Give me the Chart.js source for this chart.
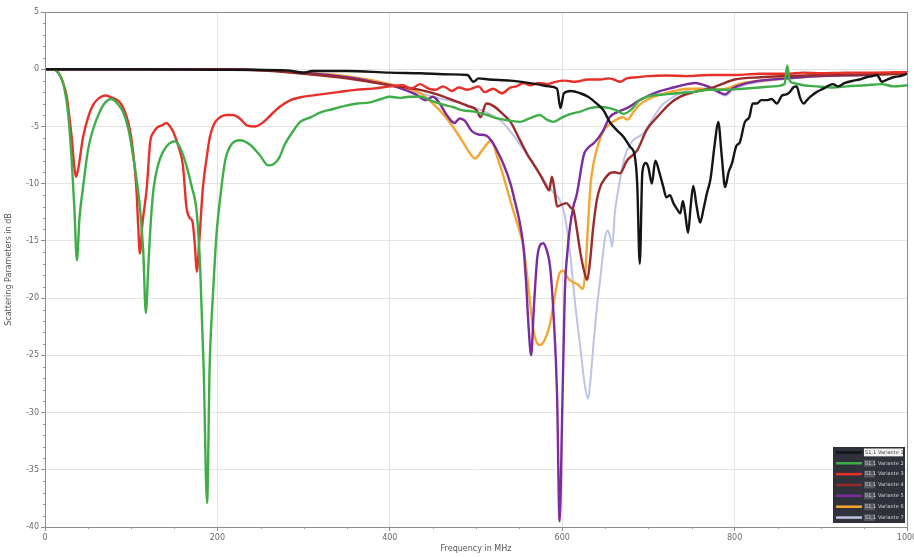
<!DOCTYPE html>
<html>
<head>
<meta charset="utf-8">
<script src="https://cdn.jsdelivr.net/npm/chart.js@4/dist/chart.umd.min.js"></script>
<style>
  html, body { margin: 0; padding: 0; background: #ffffff; }
  #wrap { width: 914px; height: 557px; position: relative; }
</style>
</head>
<body>
<div id="wrap"><canvas id="c" width="914" height="557"></canvas></div>
<script>
// Frequency axis ticks (MHz) and level ticks (dB)
const xTicks = [0, 200, 400, 600, 800, 1000];
const yTicks = [5, 0, -5, -10, -15, -20, -25, -30, -35, -40];

// Series names shown in the legend box (two columns)
const seriesNames = ['S1,1', 'S1,1', 'S1,1', 'S1,1', 'S1,1', 'S1,1', 'S1,1'];
const seriesTags  = ['Variante 1', 'Variante 2', 'Variante 3', 'Variante 4', 'Variante 5', 'Variante 6', 'Variante 7'];
const seriesColors = ['#151515', '#3fae49', '#e8302a', '#9a2b2b', '#7b2d9e', '#f5a530', '#bdc3e4'];

// Black trace
const fBlack = [0,100,200,280,300,310,350,400,435,470,
  490,497,503,515,540,570,585,594,598,602,
  610,621,630,640,648,655,663,671,679,684,
  687,690,693,697,700,704,708,713,717,721,
  725,729,733,737,740,743,746,749,752,756,
  760,764,768,772,777,781,785,789,793,797,
  802,806,812,817,821,826,831,837,843,849,
  855,860,864,868,872,876,880,884,888,895,
  903,910,914,920,928,938,945,953,960,965,
  971,977,984,992,1000];
const dbBlack = [0,0,-0.05,-0.1,-0.3,-0.15,-0.15,-0.3,-0.35,-0.45,
  -0.5,-1.1,-0.8,-0.9,-1.0,-1.3,-1.5,-1.7,-3.4,-2.1,
  -1.9,-2.1,-2.4,-3.0,-3.6,-4.6,-5.3,-5.9,-6.8,-7.5,
  -10,-17,-9,-8.2,-8.6,-10,-8,-9.1,-10.2,-11.2,
  -11.0,-11.7,-12.2,-12.6,-11.5,-12.8,-14.3,-12,-10.2,-12,
  -13.4,-12.2,-10.8,-9.6,-6.5,-4.6,-7.5,-10.3,-9,-8.2,
  -6.7,-6.4,-4.6,-4.2,-3.0,-3.0,-2.7,-2.7,-2.6,-3.0,
  -2.3,-2.2,-2.0,-1.6,-1.5,-2.5,-3.0,-2.7,-2.4,-2.0,
  -1.7,-1.4,-1.3,-1.5,-1.2,-1.0,-0.9,-0.7,-0.6,-0.5,
  -1.1,-0.9,-0.7,-0.6,-0.4];

// Green trace
const fGreen = [0,10,17,22,27,31,34,37,40,44,
  50,56,63,70,77,84,91,97,102,106,
  110,114,117,120,123,126,131,137,144,151,
  157,164,170,176,180,184,188,191,195,199,
  203,209,217,226,238,249,259,265,272,278,
  287,296,308,319,333,348,362,377,390,400,
  412,423,435,450,462,473,485,498,513,525,
  540,551,562,574,582,590,600,610,621,632,
  644,655,663,671,679,690,705,720,733,750,
  771,790,810,829,845,858,861,864,868,880,
  895,914,930,953,970,985,1000];
const dbGreen = [0,0,-0.5,-1.5,-4,-8,-12,-16.7,-13,-10.4,
  -7,-5.2,-3.8,-2.9,-2.6,-3.0,-3.8,-5.3,-7.5,-9.5,
  -12,-16,-21.3,-17,-13,-10.4,-8.4,-7.2,-6.5,-6.3,
  -6.9,-8.4,-10.2,-12.5,-17.3,-26,-37.9,-26,-19.5,-14.4,
  -11.4,-8,-6.5,-6.2,-6.6,-7.5,-8.4,-8.3,-7.7,-6.6,
  -5.5,-4.6,-4.2,-3.8,-3.5,-3.2,-3.0,-2.9,-2.6,-2.4,
  -2.5,-2.4,-2.4,-2.8,-3.1,-3.3,-3.6,-3.7,-4.0,-4.3,
  -4.5,-4.6,-4.3,-4.0,-4.4,-4.6,-4.2,-3.9,-3.7,-3.4,
  -3.3,-3.4,-3.6,-3.9,-3.6,-2.7,-2.3,-2.2,-2.1,-2.0,
  -1.8,-1.8,-1.7,-1.6,-1.5,-1.3,0.3,-1.0,-1.2,-1.4,
  -1.5,-1.6,-1.5,-1.4,-1.3,-1.5,-1.4];

// Red trace
const fRed = [0,10,14,17,21,25,28,31,34,36,
  39,44,50,56,63,70,78,87,94,99,
  103,106,108,110,113,118,122,126,130,136,
  141,145,149,155,160,164,168,171,174,176,
  179,183,188,191,196,203,210,218,226,234,
  244,252,262,272,285,300,320,340,360,380,
  400,415,425,435,445,453,462,472,480,490,
  503,510,520,530,540,547,555,563,573,583,
  592,603,615,630,645,653,660,667,675,687,
  700,720,745,770,800,830,860,880,900,930,
  960,1000];
const dbRed = [0,0,-0.2,-0.5,-1.2,-2.3,-4,-6,-8.5,-9.4,
  -8.5,-6,-4.2,-3.1,-2.5,-2.3,-2.5,-2.9,-4,-5.5,
  -7.8,-10.4,-13.5,-16.1,-13.5,-10.4,-6.4,-5.5,-5.1,-4.9,
  -4.7,-5.0,-5.5,-6.8,-8.4,-12,-13,-13.3,-15.5,-17.7,
  -15,-10.5,-7.5,-6,-4.8,-4.2,-4.0,-4.0,-4.3,-4.9,
  -5.0,-4.7,-4.0,-3.3,-2.7,-2.4,-2.2,-2.0,-1.8,-1.7,
  -1.5,-1.4,-1.7,-1.3,-1.7,-1.8,-1.5,-1.9,-1.6,-1.8,
  -1.5,-2.0,-1.7,-2.1,-1.6,-1.5,-1.2,-1.4,-1.2,-1.3,
  -1.1,-1.0,-1.1,-0.9,-0.9,-0.8,-0.9,-1.1,-0.8,-0.7,
  -0.6,-0.55,-0.6,-0.5,-0.5,-0.4,-0.4,-0.3,-0.35,-0.3,
  -0.3,-0.25];

// Dark red trace
const fMaroon = [0,200,250,300,350,400,435,455,473,490,
  501,505,512,520,531,540,551,560,566,575,
  582,585,588,591,594,600,605,610,613,617,
  621,625,629,632,636,640,644,650,655,661,
  667,675,687,698,710,725,737,752,771,785,
  800,830,860,900,950,1000];
const dbMaroon = [0,0,-0.1,-0.4,-0.8,-1.4,-1.8,-2.2,-2.7,-3.2,
  -3.6,-4.2,-3.0,-3.2,-3.9,-4.6,-6.2,-7.5,-8.2,-9.3,
  -10.3,-10.6,-9.4,-10.5,-12,-11.8,-11.7,-12.1,-12.3,-14,
  -16,-17.5,-18.4,-17,-13.8,-11.5,-10.3,-9.5,-9.1,-9.0,
  -9.1,-8.0,-7.1,-5.3,-4.2,-3.0,-2.4,-2.0,-1.7,-1.3,
  -0.9,-0.7,-0.6,-0.5,-0.45,-0.4];

// Purple trace
const fPurple = [0,200,260,300,350,380,410,430,442,450,
  458,466,475,481,487,495,503,512,520,527,
  533,540,545,551,555,558,561,564,567,571,
  575,578,582,586,590,594,597,600,603,606,
  609,613,617,625,631,636,642,648,655,665,
  675,690,710,729,745,755,765,775,782,789,
  797,810,830,860,900,950,1000];
const dbPurple = [0,0,-0.1,-0.3,-0.7,-1.1,-1.6,-2.2,-2.7,-2.4,
  -3.0,-4.0,-4.7,-4.3,-4.5,-5.4,-5.7,-5.8,-6.5,-7.5,
  -8.5,-10,-11.5,-13.5,-15.5,-18.5,-22.5,-25,-21,-16.5,
  -15.3,-15.2,-15.8,-17.3,-21.5,-28.3,-39.5,-30,-19.6,-16,
  -13.8,-12,-10.9,-7.5,-6.8,-6.5,-6.0,-5.3,-4.2,-3.7,
  -3.4,-2.7,-2.0,-1.6,-1.3,-1.2,-1.4,-1.7,-2.0,-2.2,
  -1.7,-1.3,-1.0,-0.8,-0.6,-0.5,-0.35];

// Orange trace
const fOrange = [0,200,260,300,350,400,435,458,470,481,
  490,499,506,513,518,524,532,543,550,555,
  560,566,570,574,580,586,591,597,601,606,
  612,618,624,627,630,633,637,642,648,655,
  663,670,676,682,690,700,715,730,745,760,
  775,790,805,830,860,900,950,1000];
const dbOrange = [0,0,-0.1,-0.3,-0.6,-1.3,-2.1,-3.6,-4.7,-5.9,
  -7.0,-7.8,-7.2,-6.5,-6.2,-7.5,-9.4,-12.3,-14,-15.5,
  -18.5,-22.5,-23.8,-24.1,-23.6,-22.2,-20,-17.8,-17.6,-18.2,
  -18.6,-18.8,-19.2,-17.5,-13.5,-10,-8.0,-6.5,-5.4,-4.8,
  -4.4,-4.2,-4.4,-3.8,-3.1,-2.6,-2.2,-1.9,-1.7,-1.7,
  -1.8,-1.7,-1.3,-1.0,-0.8,-0.6,-0.5,-0.4];

// Lavender trace
const fLavender = [0,250,300,350,400,450,500,530,555,575,
  590,597,603,609,615,621,626,630,633,636,
  640,644,650,653,656,658,661,664,667,672,
  680,694,706,715,725,740,755,770,780,789,
  798,815,840,870,900,950,1000];
const dbLavender = [0,-0.05,-0.3,-0.7,-1.4,-2.4,-3.4,-4.6,-7.0,-9.3,
  -10.8,-11.4,-12.8,-16,-20.5,-24.3,-27.5,-28.8,-27,-24.3,
  -21,-18.4,-14.6,-14.1,-14.8,-15.5,-12.6,-11,-9.7,-7.8,
  -6.4,-5.6,-4.2,-3.2,-2.6,-2.0,-1.7,-1.7,-2.0,-2.3,
  -1.8,-1.3,-1.0,-0.8,-0.6,-0.5,-0.35];

const traces = [
  [fBlack, dbBlack], [fGreen, dbGreen], [fRed, dbRed], [fMaroon, dbMaroon],
  [fPurple, dbPurple], [fOrange, dbOrange], [fLavender, dbLavender]
];

function toPoints(fs, vs) {
  return fs.map((f, i) => ({ x: f, y: vs[i] }));
}

const datasets = traces.map((t, i) => ({
  label: seriesNames[i] + ' ' + seriesTags[i],
  data: toPoints(t[0], t[1]),
  borderColor: seriesColors[i],
  backgroundColor: seriesColors[i],
  borderWidth: i === 6 ? 2 : 2.4,
  pointRadius: 0,
  cubicInterpolationMode: 'monotone',
  fill: false
}));

// Frame around the plotting area plus small minor tick marks
const framePlugin = {
  id: 'frame',
  afterDraw(chart) {
    const { ctx, chartArea: a, scales } = chart;
    ctx.save();
    ctx.strokeStyle = '#8c8c8c';
    ctx.lineWidth = 1;
    ctx.strokeRect(a.left + 0.5, a.top + 0.5, a.right - a.left, a.bottom - a.top);
    ctx.strokeStyle = '#9a9a9a';
    ctx.beginPath();
    for (let v = -40; v <= 5; v += 1) {
      if (v % 5 === 0) continue;
      const y = Math.round(scales.y.getPixelForValue(v)) + 0.5;
      ctx.moveTo(a.left - 2, y); ctx.lineTo(a.left, y);
    }
    for (let f = 0; f <= 1000; f += 50) {
      if (f % 200 === 0) continue;
      const x = Math.round(scales.x.getPixelForValue(f)) + 0.5;
      ctx.moveTo(x, a.bottom); ctx.lineTo(x, a.bottom + 2);
    }
    ctx.stroke();
    ctx.restore();
  }
};

// Dark legend box in the lower right corner
const legendBoxPlugin = {
  id: 'legendBox',
  afterDraw(chart) {
    const ctx = chart.ctx;
    const a = chart.chartArea;
    const x0 = a.right - 74, x1 = a.right - 2;
    const y0 = a.bottom - 80, y1 = a.bottom - 4;
    const rows = chart.data.datasets.length;
    const rh = (y1 - y0) / rows;
    ctx.save();
    ctx.fillStyle = '#2f323b';
    ctx.fillRect(x0, y0, x1 - x0, y1 - y0);
    ctx.font = '5px "DejaVu Sans"';
    ctx.textBaseline = 'middle';
    for (let i = 0; i < rows; i++) {
      const cy = y0 + rh * i + rh / 2;
      const ds = chart.data.datasets[i];
      ctx.strokeStyle = ds.borderColor;
      ctx.lineWidth = 2.5;
      ctx.beginPath();
      ctx.moveTo(x0 + 3, cy); ctx.lineTo(x0 + 29, cy);
      ctx.stroke();
      if (i === 0) {
        ctx.fillStyle = '#f2f2f2';
        ctx.fillRect(x0 + 31, y0 + 1.5, x1 - x0 - 33, rh - 3);
        ctx.fillStyle = '#444';
      } else {
        ctx.fillStyle = '#55585f';
        ctx.fillRect(x0 + 31, cy - rh / 2 + 2, 11, rh - 4);
        ctx.fillStyle = '#d6d6d6';
      }
      ctx.textAlign = 'left';
      ctx.fillText(seriesNames[i], x0 + 32, cy);
      ctx.fillText(seriesTags[i], x0 + 45, cy);
    }
    ctx.restore();
  }
};

new Chart(document.getElementById('c'), {
  type: 'line',
  data: { datasets },
  options: {
    responsive: false,
    animation: false,
    layout: { padding: { top: 12, right: 7, left: 0, bottom: 0 } },
    plugins: { legend: { display: false }, tooltip: { enabled: false } },
    scales: {
      x: {
        type: 'linear',
        min: 0, max: 1000,
        afterFit(s) { s.height = 30; s.paddingLeft = 0; s.paddingRight = 0; },
        afterBuildTicks(s) { s.ticks = xTicks.map(v => ({ value: v })); },
        grid: { color: '#e4e4e4', tickColor: '#8c8c8c', tickLength: 4, lineWidth: 1 },
        border: { color: '#8c8c8c' },
        ticks: { color: '#6a6a6a', font: { family: 'DejaVu Sans', size: 8 }, padding: 2, maxRotation: 0, callback: v => String(v) },
        title: { display: true, text: 'Frequency in MHz', color: '#555', font: { family: 'DejaVu Sans', size: 8 }, padding: { top: 0, bottom: 3 } }
      },
      y: {
        type: 'linear',
        min: -40, max: 5,
        afterFit(s) { s.width = 45; s.paddingTop = 0; s.paddingBottom = 0; },
        afterBuildTicks(s) { s.ticks = yTicks.map(v => ({ value: v })); },
        grid: { color: '#e4e4e4', tickColor: '#8c8c8c', tickLength: 4, lineWidth: 1 },
        border: { color: '#8c8c8c' },
        ticks: { color: '#6a6a6a', font: { family: 'DejaVu Sans', size: 8 }, padding: 2, callback: v => String(v) },
        title: { display: true, text: 'Scattering Parameters in dB', color: '#555', font: { family: 'DejaVu Sans', size: 8 }, padding: { top: 4, bottom: 0 } }
      }
    }
  },
  plugins: [framePlugin, legendBoxPlugin]
});
</script>
</body>
</html>
